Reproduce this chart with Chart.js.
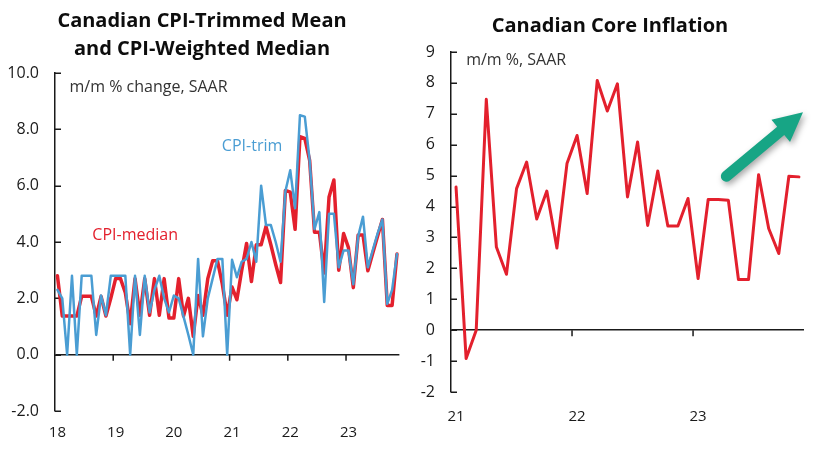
<!DOCTYPE html>
<html>
<head>
<meta charset="utf-8">
<script src="https://cdn.jsdelivr.net/npm/chart.js@4.4.1/dist/chart.umd.min.js"></script>
<style>
  html, body { margin: 0; padding: 0; background: #fff; }
  #wrap { position: relative; width: 820px; height: 466px; }
  canvas { position: absolute; top: 0; }
</style>
</head>
<body>
<div id="wrap">
  <canvas id="left" width="410" height="466" style="left:0"></canvas>
  <canvas id="right" width="404" height="466" style="left:416px"></canvas>
</div>
<script>
// month categories, 'YYYY-MM'
function monthRange(year, count) {
    const out = [];
    for (let i = 0; i < count; i++) {
        const y = year + Math.floor(i / 12), m = (i % 12) + 1;
        out.push(y + '-' + (m < 10 ? '0' + m : m));
    }
    return out;
}

// Left chart: Jan 2018 - Nov 2023
const leftMonths = monthRange(2018, 71);
const leftYears = ['18', '19', '20', '21', '22', '23'];
const cpiMedian = [
    2.8, 1.37, 1.37, 1.37, 1.37, 2.07, 2.07, 2.07, 1.37, 2.07, 1.37, 2.0,
    2.7, 2.7, 2.2, 1.1, 2.7, 1.4, 2.7, 1.4, 2.7, 1.4, 2.7, 1.3,
    1.3, 2.7, 1.37, 2.0, 0.65, 2.1, 1.4, 2.7, 3.33, 3.33, 2.5, 1.4,
    2.4, 1.95, 3.0, 3.95, 2.6, 3.9, 3.9, 4.55, 3.9, 3.2, 2.56, 5.83,
    5.77, 4.45, 7.74, 7.68, 6.9, 4.35, 4.35, 2.9, 5.6, 6.2, 3.0, 4.3,
    3.8, 2.38, 4.25, 4.25, 2.98, 3.6, 4.2, 4.8, 1.75, 1.75, 3.57
];
const cpiTrim = [
    2.3, 2.0, 0.0, 2.8, 0.0, 2.8, 2.8, 2.8, 0.7, 2.1, 1.4, 2.8,
    2.8, 2.8, 2.8, 0.0, 2.8, 0.7, 2.8, 1.5, 2.3, 2.8, 2.0, 1.5,
    2.1, 2.0, 1.35, 0.7, 0.0, 3.4, 0.65, 2.0, 2.7, 3.4, 3.4, 0.0,
    3.37, 2.75, 3.3, 3.4, 4.0, 3.3, 6.0, 4.6, 4.6, 4.0, 3.3, 5.8,
    6.55, 5.2, 8.5, 8.45, 6.9, 4.46, 5.06, 1.87, 5.0, 5.0, 3.1, 3.7,
    3.7, 2.5, 4.2, 4.9, 3.1, 3.7, 4.3, 4.8, 1.8, 2.3, 3.57
];

// Right chart: Jan 2021 - Nov 2023
const rightMonths = monthRange(2021, 35);
const rightYears = ['21', '22', '23'];
const coreInflation = [
    4.63, -0.92, 0.0, 7.47, 2.69, 1.81, 4.58, 5.44, 3.6, 4.5, 2.66, 5.39,
    6.3, 4.42, 8.08, 7.09, 7.97, 4.31, 6.09, 3.39, 5.15, 3.37, 3.37, 4.26,
    1.67, 4.23, 4.23, 4.2, 1.64, 1.64, 5.03, 3.29, 2.48, 4.98, 4.96
];

const RED = '#e3202d', BLUE = '#4a9dd3', GREEN = '#17a585', INK = '#1a1a1a';
const FONT = "'Open Sans', 'Noto Sans', sans-serif";

// inward y ticks, year ticks hanging from the zero line, in-plot labels, arrow
const decor = {
    id: 'decor',
    beforeDatasetsDraw(chart, args, o) {
        const { ctx, chartArea: a, scales: { x, y } } = chart;
        ctx.save();
        ctx.strokeStyle = INK; ctx.lineWidth = 1.5;
        ctx.beginPath();
        y.ticks.forEach(t => {
            const py = Math.round(y.getPixelForValue(t.value)) + 0.25;
            ctx.moveTo(a.left, py); ctx.lineTo(a.left + 6, py);
        });
        const y0 = y.getPixelForValue(0);
        o.months.forEach((m, i) => {
            if (i > 0 && m.endsWith('-01')) {
                const px = x.getPixelForValue(i - 0.5);
                ctx.moveTo(px, y0); ctx.lineTo(px, y0 + 6);
            }
        });
        ctx.stroke();
        ctx.restore();
    },
    afterDatasetsDraw(chart, args, o) {
        const { ctx, scales: { x, y } } = chart;
        ctx.save();
        (o.labels || []).forEach(l => {
            ctx.font = l.size + 'px ' + FONT;
            ctx.fillStyle = l.color;
            ctx.textBaseline = 'middle';
            ctx.fillText(l.text, x.getPixelForValue(l.x), y.getPixelForValue(l.y));
        });
        if (o.arrow) {
            const [s, e] = o.arrow.map(p => [x.getPixelForValue(p[0]), y.getPixelForValue(p[1])]);
            const th = Math.atan2(e[1] - s[1], e[0] - s[0]);
            const ux = Math.cos(th), uy = Math.sin(th), nx = -uy, ny = ux;
            const w = 5.5, head = 29, half = 14.5;
            const bx = e[0] - ux * head, by = e[1] - uy * head;
            ctx.shadowColor = 'rgba(0,0,0,0.35)';
            ctx.shadowBlur = 6; ctx.shadowOffsetX = 2; ctx.shadowOffsetY = 3;
            ctx.fillStyle = GREEN;
            ctx.beginPath();
            ctx.arc(s[0], s[1], w, th + Math.PI / 2, th + Math.PI * 1.5);
            ctx.lineTo(bx - nx * w, by - ny * w);
            ctx.lineTo(bx - nx * half, by - ny * half);
            ctx.lineTo(e[0], e[1]);
            ctx.lineTo(bx + nx * half, by + ny * half);
            ctx.lineTo(bx + nx * w, by + ny * w);
            ctx.closePath();
            ctx.fill();
        }
        ctx.restore();
    }
};

function makeChart(canvas, cfg) {
    const months = cfg.months;
    let yearIdx = 0;
    const yearAt = {};
    months.forEach((m, i) => { if (m.endsWith('-01')) yearAt[i] = cfg.years[yearIdx++]; });
    return new Chart(canvas, {
        type: 'line',
        data: { labels: months, datasets: cfg.datasets },
        options: {
            responsive: false,
            animation: false,
            layout: { padding: { left: 0, right: cfg.padRight, top: 0, bottom: 0 } },
            elements: { point: { radius: 0 }, line: { tension: 0, borderJoinStyle: 'round', borderCapStyle: 'round' } },
            scales: {
                x: {
                    offset: true,
                    border: { display: false },
                    grid: { display: false, drawTicks: false },
                    ticks: {
                        autoSkip: false, maxRotation: 0, padding: cfg.xPad,
                        color: INK, font: { family: FONT, size: 15 },
                        callback: (v, i) => yearAt[i] || ''
                    },
                    afterFit: s => { s.height = cfg.xHeight; }
                },
                y: {
                    min: cfg.yMin, max: cfg.yMax,
                    border: { color: INK, width: 1.5 },
                    grid: {
                        drawTicks: false, lineWidth: 1.5,
                        color: c => c.tick.value === 0 ? INK : 'transparent'
                    },
                    ticks: {
                        stepSize: cfg.yStep, padding: 16, color: INK,
                        font: { family: FONT, size: 16 },
                        callback: cfg.yFormat
                    },
                    afterFit: s => { s.width = cfg.yWidth; }
                }
            },
            plugins: {
                legend: { display: false },
                tooltip: { enabled: false },
                title: {
                    display: true, text: cfg.title, color: '#0d0d0d',
                    font: { family: FONT, size: 20, weight: 'bold', lineHeight: 1.4 },
                    padding: cfg.titlePad
                },
                decor: { months, labels: cfg.labels, arrow: cfg.arrow }
            }
        },
        plugins: [decor]
    });
}

makeChart(document.getElementById('left'), {
    months: leftMonths, years: leftYears,
    title: ['Canadian CPI-Trimmed Mean', 'and CPI-Weighted Median'],
    titlePad: { top: 7, bottom: 10 },
    padRight: 6, yWidth: 55, xHeight: 55, xPad: 13,
    yMin: -2, yMax: 10, yStep: 2, yFormat: v => v.toFixed(1),
    datasets: [
        { label: 'CPI-trim', data: cpiTrim, borderColor: BLUE, borderWidth: 2.5, order: 1 },
        { label: 'CPI-median', data: cpiMedian, borderColor: RED, borderWidth: 3.5, order: 2 }
    ],
    labels: [
        { text: 'm/m % change, SAAR', x: 2.5, y: 9.5, size: 16, color: '#333' },
        { text: 'CPI-trim', x: 33.9, y: 7.4, size: 16, color: BLUE },
        { text: 'CPI-median', x: 7.2, y: 4.25, size: 16, color: RED }
    ]
});

makeChart(document.getElementById('right'), {
    months: rightMonths, years: rightYears,
    title: 'Canadian Core Inflation',
    titlePad: { top: 12, bottom: 12 },
    padRight: 16, yWidth: 35, xHeight: 74, xPad: 16,
    yMin: -2, yMax: 9, yStep: 1, yFormat: v => String(v),
    datasets: [
        { label: 'Core', data: coreInflation, borderColor: RED, borderWidth: 3 }
    ],
    labels: [
        { text: 'm/m %, SAAR', x: 1.0, y: 8.74, size: 16, color: '#333' }
    ],
    arrow: [[26.8, 4.98], [34.4, 7.05]]
});
</script>
</body>
</html>
